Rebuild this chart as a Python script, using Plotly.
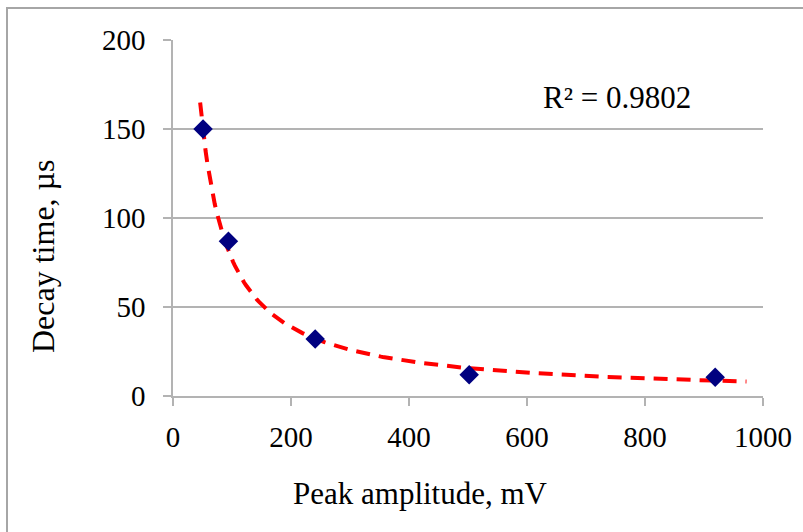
import numpy as np
import plotly.graph_objects as go

# Data
peak_amplitude_mV = [51, 94, 241, 502, 919]
decay_time_us = [150, 87, 32, 12, 10.5]
x_ticks = [0, 200, 400, 600, 800, 1000]
y_ticks = [0, 50, 100, 150, 200]
r2_label = "R² = 0.9802"
trend_range = [46, 972]

# Power-law trendline (least squares in log space), as Excel does
b, ln_a = np.polyfit(np.log(peak_amplitude_mV), np.log(decay_time_us), 1)
tx = np.linspace(trend_range[0], trend_range[1], 300)
ty = np.exp(ln_a) * tx ** b

FONT = "Liberation Serif"
GRID = "#b3b3b3"

fig = go.Figure()
fig.add_trace(go.Scatter(
    x=tx, y=ty, mode="lines",
    line=dict(color="#ff0000", width=4, dash="14px,9px"),
    hoverinfo="skip", showlegend=False,
))
fig.add_trace(go.Scatter(
    x=peak_amplitude_mV, y=decay_time_us, mode="markers",
    marker=dict(symbol="diamond", size=15, color="#000080"),
    showlegend=False,
))

fig.update_layout(
    width=803, height=532,
    margin=dict(l=173, r=40, t=40, b=136),
    paper_bgcolor="white", plot_bgcolor="white",
    font=dict(family=FONT, size=29, color="black"),
    xaxis=dict(
        range=[0, 1000], tickvals=x_ticks, showgrid=False,
        showline=True, linecolor=GRID, linewidth=1.5,
        ticks="outside", ticklen=8, tickcolor=GRID, tickwidth=1.5,
        zeroline=False, tickfont=dict(family=FONT, size=29),
        ticklabelstandoff=6,
    ),
    yaxis=dict(
        range=[0, 200], tickvals=y_ticks, showgrid=True,
        gridcolor=GRID, gridwidth=1.5,
        showline=True, linecolor=GRID, linewidth=1.5,
        ticks="outside", ticklen=8, tickcolor=GRID, tickwidth=1.5,
        zeroline=False, tickfont=dict(family=FONT, size=29),
        ticklabelstandoff=12,
    ),
    annotations=[
        dict(text=r2_label, xref="paper", yref="paper",
             x=(541 - 173) / 590, y=(396 - 97) / 356,
             xanchor="left", yanchor="middle", showarrow=False,
             font=dict(family=FONT, size=31)),
        dict(text="Peak amplitude, mV", xref="paper", yref="paper",
             x=(420 - 173) / 590, y=(396 - 493) / 356,
             xanchor="center", yanchor="middle", showarrow=False,
             font=dict(family=FONT, size=31)),
        dict(text="Decay time, µs", xref="paper", yref="paper",
             x=(43 - 173) / 590, y=(396 - 257) / 356, textangle=-90,
             xanchor="center", yanchor="middle", showarrow=False,
             font=dict(family=FONT, size=32)),
    ],
    shapes=[
        dict(type="rect", xref="paper", yref="paper",
             x0=(7 - 173) / 590, y0=(396 - 560) / 356,
             x1=(830 - 173) / 590, y1=(396 - 8) / 356,
             line=dict(color="#a6a6a6", width=2), layer="below"),
    ],
)

fig.write_html("out.html")
